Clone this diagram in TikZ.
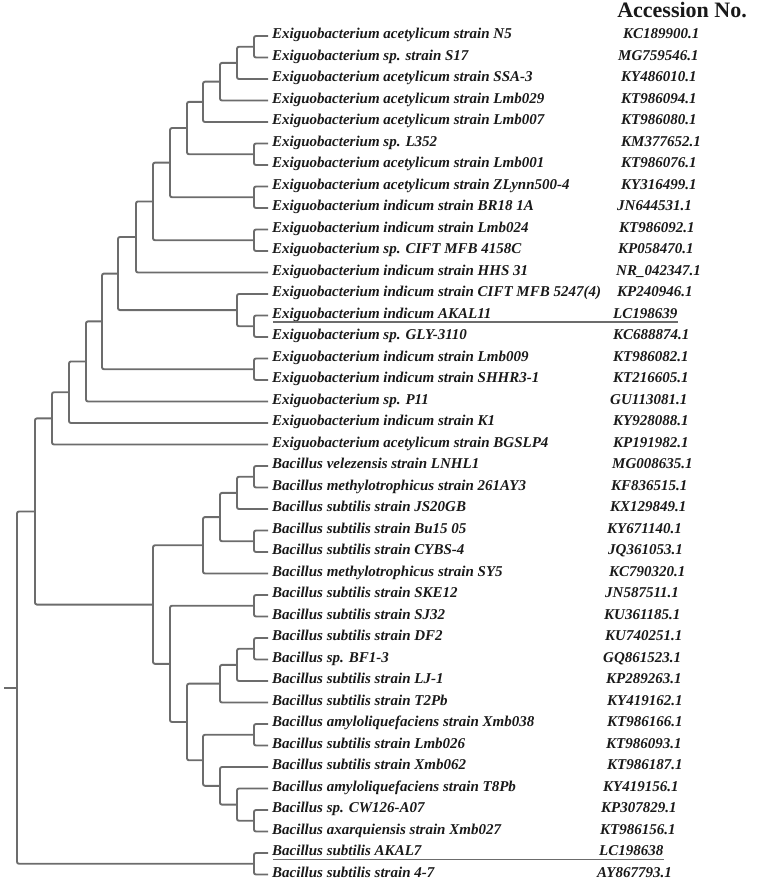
\documentclass[tikz,border=0pt]{standalone}
\usepackage{fontspec}
\setmainfont{Liberation Serif}
\usetikzlibrary{calc}

\definecolor{branchgray}{RGB}{108,108,108}
\definecolor{inkblack}{RGB}{25,25,25}

% parent coordinate, x position, upper child, lower child
\newcommand{\clade}[4]{%
  \path let \p1=($(#3)!0.5!(#4)$) in coordinate (#1) at (#2pt,\y1);
  \draw[branch] (#3) -| (#1) |- (#4);
}

\begin{document}
\begin{tikzpicture}[
    x=1pt, y=-1pt,
    every node/.style={font=\bfseries\itshape\fontsize{15}{17}\selectfont, text=inkblack},
    taxon/.style={anchor=west, inner xsep=4pt, inner ysep=0pt, text height=1.5ex, text depth=.3ex},
    accno/.style={anchor=west, inner sep=0pt, text height=1.5ex, text depth=.3ex},
    title/.style={anchor=east, inner sep=0pt, font=\bfseries\fontsize{22}{24}\selectfont},
    branch/.style={draw=branchgray, line width=1.9pt, rounded corners=2pt},
    uline/.style={draw=branchgray, line width=1.3pt}
]
\useasboundingbox (0,0) rectangle (767,894);

\node[title] (head) at (747,10) {Accession No.};

% taxa and accession numbers
\foreach \i/\name/\acc/\ax in {
  1/Exiguobacterium acetylicum strain N5/KC189900.1/623,
  2/Exiguobacterium sp. strain S17/MG759546.1/618,
  3/Exiguobacterium acetylicum strain SSA-3/KY486010.1/621,
  4/Exiguobacterium acetylicum strain Lmb029/KT986094.1/621,
  5/Exiguobacterium acetylicum strain Lmb007/KT986080.1/621,
  6/Exiguobacterium sp. L352/KM377652.1/621,
  7/Exiguobacterium acetylicum strain Lmb001/KT986076.1/621,
  8/Exiguobacterium acetylicum strain ZLynn500-4/KY316499.1/621,
  9/Exiguobacterium indicum strain BR18 1A/JN644531.1/617,
  10/Exiguobacterium indicum strain Lmb024/KT986092.1/619,
  11/Exiguobacterium sp. CIFT MFB 4158C/KP058470.1/618,
  12/Exiguobacterium indicum strain HHS 31/NR\_042347.1/616,
  13/Exiguobacterium indicum strain CIFT MFB 5247(4)/KP240946.1/617,
  14/Exiguobacterium indicum AKAL11/LC198639/613,
  15/Exiguobacterium sp. GLY-3110/KC688874.1/613,
  16/Exiguobacterium indicum strain Lmb009/KT986082.1/613,
  17/Exiguobacterium indicum strain SHHR3-1/KT216605.1/613,
  18/Exiguobacterium sp. P11/GU113081.1/610,
  19/Exiguobacterium indicum strain K1/KY928088.1/613,
  20/Exiguobacterium acetylicum strain BGSLP4/KP191982.1/613,
  21/Bacillus velezensis strain LNHL1/MG008635.1/612,
  22/Bacillus methylotrophicus strain 261AY3/KF836515.1/611,
  23/Bacillus subtilis strain JS20GB/KX129849.1/610,
  24/Bacillus subtilis strain Bu15 05/KY671140.1/607,
  25/Bacillus subtilis strain CYBS-4/JQ361053.1/608,
  26/Bacillus methylotrophicus strain SY5/KC790320.1/609,
  27/Bacillus subtilis strain SKE12/JN587511.1/605,
  28/Bacillus subtilis strain SJ32/KU361185.1/604,
  29/Bacillus subtilis strain DF2/KU740251.1/605,
  30/Bacillus sp. BF1-3/GQ861523.1/603,
  31/Bacillus subtilis strain LJ-1/KP289263.1/606,
  32/Bacillus subtilis strain T2Pb/KY419162.1/607,
  33/Bacillus amyloliquefaciens strain Xmb038/KT986166.1/607,
  34/Bacillus subtilis strain Lmb026/KT986093.1/606,
  35/Bacillus subtilis strain Xmb062/KT986187.1/607,
  36/Bacillus amyloliquefaciens strain T8Pb/KY419156.1/603,
  37/Bacillus sp. CW126-A07/KP307829.1/601,
  38/Bacillus axarquiensis strain Xmb027/KT986156.1/600,
  39/Bacillus subtilis AKAL7/LC198638/599,
  40/Bacillus subtilis strain 4-7/AY867793.1/597}{
  \node[taxon] (tx\i) at (268,{36+(\i-1)*21.5}) {\name};
  \node[accno] (acc\i) at (\ax,{36+(\i-1)*21.5}) {\acc};
}

% Exiguobacterium clade
\clade{e1}{254}{tx1}{tx2}
\clade{e2}{237}{e1}{tx3}
\clade{e3}{220}{e2}{tx4}
\clade{e4}{203}{e3}{tx5}
\clade{e5}{254}{tx6}{tx7}
\clade{e6}{187}{e4}{e5}
\clade{e7}{254}{tx8}{tx9}
\clade{e8}{170}{e6}{e7}
\clade{e9}{254}{tx10}{tx11}
\clade{e10}{153}{e8}{e9}
\clade{e11}{136}{e10}{tx12}
\clade{e12}{254}{tx14}{tx15}
\clade{e13}{237}{tx13}{e12}
\clade{e14}{118}{e11}{e13}
\clade{e15}{254}{tx16}{tx17}
\clade{e16}{102}{e14}{e15}
\clade{e17}{86}{e16}{tx18}
\clade{e18}{69}{e17}{tx19}
\clade{e19}{52}{e18}{tx20}

% Bacillus clade
\clade{b1}{254}{tx21}{tx22}
\clade{b2}{237}{b1}{tx23}
\clade{b3}{254}{tx24}{tx25}
\clade{b4}{220}{b2}{b3}
\clade{b5}{203}{b4}{tx26}
\clade{b6}{254}{tx27}{tx28}
\clade{b7}{254}{tx29}{tx30}
\clade{b8}{237}{b7}{tx31}
\clade{b9}{220}{b8}{tx32}
\clade{b10}{254}{tx33}{tx34}
\clade{b11}{254}{tx37}{tx38}
\clade{b12}{237}{tx36}{b11}
\clade{b13}{220}{tx35}{b12}
\clade{b14}{203}{b10}{b13}
\clade{b15}{187}{b9}{b14}
\clade{b16}{170}{b6}{b15}
\clade{b17}{153}{b5}{b16}
\clade{b18}{254}{tx39}{tx40}

% joining and root
\clade{ingroup}{35}{e19}{b17}
\clade{root}{17}{ingroup}{b18}
\coordinate (base) at ($(root)+(-13,0)$);
\draw[branch] (base) -- (root);

% isolates of this study
\draw[uline] ([xshift=5pt,yshift=-6.5pt]tx14.west) -- ([yshift=-6.5pt]acc14.east);
\draw[uline] ([xshift=5pt,yshift=-6.5pt]tx39.west) -- ([yshift=-6.5pt]acc39.east);
\end{tikzpicture}
\end{document}
